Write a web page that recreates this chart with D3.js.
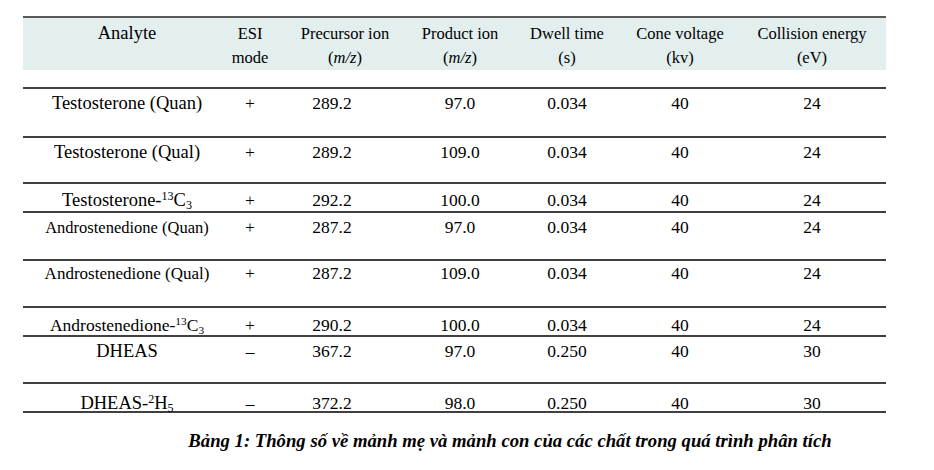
<!DOCTYPE html>
<html>
<head>
<meta charset="utf-8">
<script src="https://cdn.jsdelivr.net/npm/d3@7"></script>
<style>
  body { margin: 0; background: #fff; }
  svg text { fill: #000; }
</style>
</head>
<body>
<script>
// ---------------------- table data ----------------------
var headers1 = ["Analyte", "ESI", "Precursor ion", "Product ion", "Dwell time", "Cone voltage", "Collision energy"];
var headers2 = ["", "mode", "(m/z)", "(m/z)", "(s)", "(kv)", "(eV)"];

// analyte names: [base, superscript, text, subscript]
var analytes = [
  ["Testosterone (Quan)"],
  ["Testosterone (Qual)"],
  ["Testosterone-", "13", "C", "3"],
  ["Androstenedione (Quan)"],
  ["Androstenedione (Qual)"],
  ["Androstenedione-", "13", "C", "3"],
  ["DHEAS"],
  ["DHEAS-", "2", "H", "5"]
];
var esiMode   = ["+", "+", "+", "+", "+", "+", "\u2013", "\u2013"];
var precursor = ["289.2", "289.2", "292.2", "287.2", "287.2", "290.2", "367.2", "372.2"];
var product   = ["97.0", "109.0", "100.0", "97.0", "109.0", "100.0", "97.0", "98.0"];
var dwell     = ["0.034", "0.034", "0.034", "0.034", "0.034", "0.034", "0.250", "0.250"];
var cone      = ["40", "40", "40", "40", "40", "40", "40", "40"];
var collision = ["24", "24", "24", "24", "24", "24", "30", "30"];

var caption = "B\u1ea3ng 1: Th\u00f4ng s\u1ed1 v\u1ec1 m\u1ea3nh m\u1eb9 v\u00e0 m\u1ea3nh con c\u1ee7a c\u00e1c ch\u1ea5t trong qu\u00e1 tr\u00ecnh ph\u00e2n t\u00edch";

// ---------------------- layout ----------------------
var W = 934, H = 470;
var left = 23, right = 886;
var serif = "'Liberation Serif', 'Times New Roman', serif";
var colHead = [127, 250, 345, 460, 567, 680, 812];   // header centres
var colBody = [127, 250, 332, 460, 567, 680, 812];   // value centres
var rowBase = [109, 158, 206, 233, 279, 331, 357, 409];
var rowFont = [18.5, 18.5, 18.5, 16.5, 17, 17.5, 18.5, 18.5]; // analyte sizes differ per row
var ruleY   = [88, 137, 183, 212, 260, 307, 336, 383, 412];

var svg = d3.select("body")
  .append("svg")
  .attr("width", W)
  .attr("height", H)
  .attr("font-family", serif);

// header band
svg.append("rect")
  .attr("x", left).attr("y", 17)
  .attr("width", right - left).attr("height", 53)
  .attr("fill", "#e3eeee");

svg.append("line")
  .attr("x1", left).attr("x2", right)
  .attr("y1", 17).attr("y2", 17)
  .attr("stroke", "#5a5a5a").attr("stroke-width", 2);

// header text
svg.selectAll("text.h1")
  .data(headers1)
  .enter()
  .append("text")
  .attr("class", "h1")
  .attr("x", function(d, i) { return colHead[i]; })
  .attr("y", 39)
  .attr("text-anchor", "middle")
  .style("font-family", serif)
  .style("font-size", function(d, i) { return i == 0 ? "18.5px" : "16.5px"; })
  .text(function(d) { return d; });

svg.selectAll("text.h2")
  .data(headers2)
  .enter()
  .append("text")
  .attr("class", "h2")
  .attr("x", function(d, i) { return colHead[i]; })
  .attr("y", 63)
  .attr("text-anchor", "middle")
  .style("font-family", serif)
  .style("font-size", "16.5px")
  .each(function(d) {
    var t = d3.select(this);
    if (d == "(m/z)") {
      t.append("tspan").text("(");
      t.append("tspan").style("font-style", "italic").text("m/z");
      t.append("tspan").text(")");
    } else {
      t.text(d);
    }
  });

// row rules
svg.selectAll("line.rule")
  .data(ruleY)
  .enter()
  .append("line")
  .attr("class", "rule")
  .attr("x1", left).attr("x2", right)
  .attr("y1", function(d) { return d; })
  .attr("y2", function(d) { return d; })
  .attr("stroke", "#000").attr("stroke-width", 1.4);

// analyte column
svg.selectAll("text.analyte")
  .data(analytes)
  .enter()
  .append("text")
  .attr("class", "analyte")
  .attr("x", colBody[0])
  .attr("y", function(d, i) { return rowBase[i]; })
  .attr("text-anchor", "middle")
  .style("font-family", serif)
  .style("font-size", function(d, i) { return rowFont[i] + "px"; })
  .each(function(d) {
    var t = d3.select(this);
    t.append("tspan").text(d[0]);
    if (d.length > 1) {
      t.append("tspan").attr("dy", -6).style("font-size", "0.65em").text(d[1]);
      t.append("tspan").attr("dy", 6).text(d[2]);
      t.append("tspan").attr("dy", 3).style("font-size", "0.65em").text(d[3]);
    }
  });

// value columns
var cols = [esiMode, precursor, product, dwell, cone, collision];
cols.forEach(function(vals, c) {
  svg.selectAll("text.c" + c)
    .data(vals)
    .enter()
    .append("text")
    .attr("class", "c" + c)
    .attr("x", colBody[c + 1])
    .attr("y", function(d, i) { return rowBase[i]; })
    .attr("text-anchor", "middle")
    .style("font-family", serif)
    .style("font-size", "17.5px")
    .text(function(d) { return d; });
});

// caption
svg.append("text")
  .attr("x", 510)
  .attr("y", 447)
  .attr("text-anchor", "middle")
  .style("font-family", serif)
  .style("font-size", "18.7px")
  .style("font-weight", "bold")
  .style("font-style", "italic")
  .text(caption);
</script>
</body>
</html>
